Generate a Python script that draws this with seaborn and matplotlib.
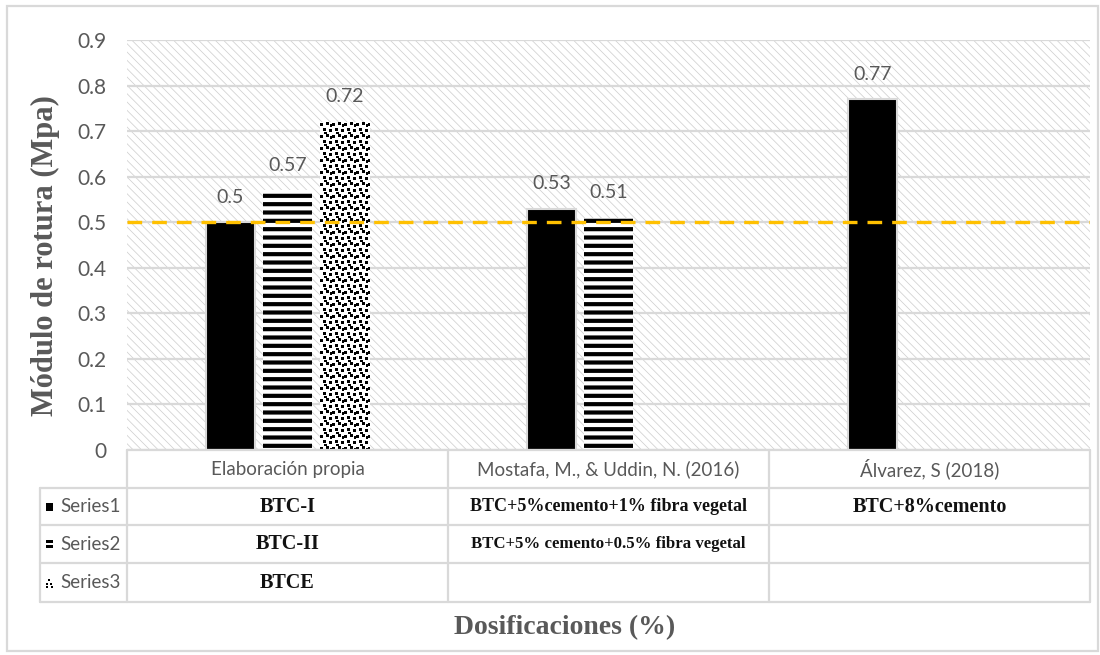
import numpy as np
import pandas as pd
import matplotlib
matplotlib.use("Agg")
import matplotlib.pyplot as plt
import seaborn as sns
from matplotlib.patches import Rectangle
from matplotlib.lines import Line2D

# ---- data -------------------------------------------------------------
categories = ["Elaboración propia", "Mostafa, M., & Uddin, N. (2016)", "Álvarez, S (2018)"]
series_names = ["Series1", "Series2", "Series3"]
series1 = [0.50, 0.53, 0.77]
series2 = [0.57, 0.51, np.nan]
series3 = [0.72, np.nan, np.nan]
series1_desc = ["BTC-I", "BTC+5%cemento+1% fibra vegetal", "BTC+8%cemento"]
series2_desc = ["BTC-II", "BTC+5% cemento+0.5% fibra vegetal", ""]
series3_desc = ["BTCE", "", ""]
y_ticks = [0, 0.1, 0.2, 0.3, 0.4, 0.5, 0.6, 0.7, 0.8, 0.9]
reference_level = 0.5
y_label = "Módulo de rotura (Mpa)"
x_label = "Dosificaciones (%)"

values = [series1, series2, series3]
descs = [series1_desc, series2_desc, series3_desc]
df = pd.DataFrame(
    [(c, s, v) for s, vals in zip(series_names, values) for c, v in zip(categories, vals)],
    columns=["category", "series", "value"],
).dropna()

# ---- style ------------------------------------------------------------
sns.set_theme(style="white")
plt.rcParams["font.family"] = ["Lato", "DejaVu Sans"]

GRID = "#d9d9d9"
TXT = "#595959"
SERIF = ["Liberation Serif", "DejaVu Serif"]

W, H = 1100, 655
fig = plt.figure(figsize=(W / 100, H / 100), dpi=100)
fig.patch.set_facecolor("white")

# plot area in pixel terms
pl, pr, pt, pb = 127, 1090, 40, 450
ax = fig.add_axes([pl / W, 1 - pb / H, (pr - pl) / W, (pb - pt) / H])

# hatched plot-area background
bg = Rectangle((0, 0), 1, 1, transform=ax.transAxes, facecolor="white",
               edgecolor="#d0d0d0", hatch="\\" * 4, lw=0, zorder=0)
if hasattr(bg, "set_hatch_linewidth"):
    bg.set_hatch_linewidth(0.55)
ax.add_patch(bg)

sns.barplot(data=df, x="category", y="value", hue="series",
            order=categories, hue_order=series_names,
            palette=["black", "white", "white"], saturation=1,
            width=0.533, gap=0.125, errorbar=None, legend=False, ax=ax)

ax.set_xlim(-0.5, len(categories) - 0.5)
ax.set_ylim(0, 0.9)

# confetti tile used to fill the third series
tile = np.zeros((12, 12))
for tx, ty in [(0, 1), (6, 0), (3, 6), (9, 7), (10, 2), (4, 10)]:
    tile[ty:ty + 3, tx:tx + 3] = 1
tile = np.clip(tile, 0, 1)

styles = [
    dict(facecolor="black", edgecolor=GRID, linewidth=1.5, hatch=None),
    dict(facecolor="white", edgecolor="black", linewidth=0, hatch="--"),
    dict(facecolor="white", edgecolor="white", linewidth=0, hatch="confetti"),
]
for cont, st in zip(ax.containers, styles):
    for bar in cont:
        bar.set_facecolor(st["facecolor"])
        bar.set_edgecolor(st["edgecolor"])
        bar.set_linewidth(st["linewidth"])
        bar.set_zorder(2)
        if st["hatch"] == "confetti":
            x0, y0 = bar.get_x(), bar.get_y()
            x1, y1 = x0 + bar.get_width(), y0 + bar.get_height()
            (px0, py0), (px1, py1) = ax.transData.transform([(x0, y0), (x1, y1)])
            nx, ny = int(round(px1 - px0)), int(round(py1 - py0))
            reps = (ny // 12 + 2, nx // 12 + 2)
            img = np.tile(tile, reps)[:ny, :nx]
            im = ax.imshow(1 - img, cmap="gray", vmin=0, vmax=1,
                           extent=(x0, x1, y0, y1), origin="upper",
                           aspect="auto", interpolation="nearest", zorder=2.5)
            im.set_clip_path(bar)
        elif st["hatch"]:
            bar.set_hatch(st["hatch"])
            if hasattr(bar, "set_hatch_linewidth"):
                bar.set_hatch_linewidth(3.0)
    ax.bar_label(cont, fmt="{:g}", padding=12, color=TXT, fontsize=14)

ax.axhline(reference_level, color="#FFC000", lw=2.4, dashes=(4.4, 3.0), zorder=4)

ax.set_xlim(-0.5, len(categories) - 0.5)
ax.set_ylim(0, 0.9)
ax.set_yticks(y_ticks)
ax.set_yticklabels([f"{t:g}" for t in y_ticks])
ax.set_xticks([])
ax.set_xlabel("")
ax.set_ylabel("")
ax.yaxis.grid(True, color=GRID, lw=1.6)
ax.set_axisbelow(True)
for s in ax.spines.values():
    s.set_visible(False)
ax.tick_params(axis="y", length=0, pad=15, labelcolor=TXT, labelsize=15)
ax.patch.set_alpha(0)

# ---- overlay in pixel coordinates for the data table and titles --------
ov = fig.add_axes([0, 0, 1, 1], zorder=5)
ov.set_xlim(0, W)
ov.set_ylim(H, 0)
ov.axis("off")
ov.patch.set_alpha(0)

# column edges taken from the category scale
edges = [ax.transData.transform((x, 0))[0] for x in np.arange(len(categories) + 1) - 0.5]
centers = [ax.transData.transform((i, 0))[0] for i in range(len(categories))]

key_l = 40
row_y = [450, 488, 525, 563, 602]
long_sizes = [13.0, 12.1, 12.1]

def hline(y, x0, x1):
    ov.add_line(Line2D([x0, x1], [y, y], color=GRID, lw=1.6))

def vline(x, y0, y1):
    ov.add_line(Line2D([x, x], [y0, y1], color=GRID, lw=1.6))

hline(row_y[0], edges[0], edges[-1])
for y in row_y[1:]:
    hline(y, key_l, edges[-1])
for x in edges:
    vline(x, row_y[0], row_y[-1])
vline(key_l, row_y[1], row_y[-1])

# header row with the category names
hy = (row_y[0] + row_y[1]) / 2
for c, name in zip(centers, categories):
    ov.text(c, hy, name, ha="center", va="center", color=TXT, fontsize=13.5)

# one row per series
for i, (sname, dl) in enumerate(zip(series_names, descs)):
    cy = (row_y[i + 1] + row_y[i + 2]) / 2
    ov.text(60, cy, sname, ha="left", va="center", color=TXT, fontsize=13.5)
    for c, d in zip(centers, dl):
        if d:
            ov.text(c, cy, d, ha="center", va="center", color="#111111",
                    fontsize=14.5 if len(d) < 20 else long_sizes[i],
                    fontweight="bold", family=SERIF)
    # legend key
    if i == 0:
        ov.add_patch(Rectangle((46, cy - 4), 7, 8, facecolor="black", lw=0))
    elif i == 1:
        ov.add_patch(Rectangle((46, cy - 4), 7, 2.5, facecolor="black", lw=0))
        ov.add_patch(Rectangle((46, cy + 1), 7, 2.5, facecolor="black", lw=0))
    else:
        for dx, dy in [(48, -4), (46, 0), (50, 0), (46, 3), (51, 3)]:
            ov.add_patch(Rectangle((dx, cy + dy), 2, 2, facecolor="black", lw=0))

# axis titles
ov.text(45, 256, y_label, rotation=90, ha="center", va="center", color=TXT,
        fontsize=22, fontweight="bold", family=SERIF)
ov.text(565, 628, x_label, ha="center", va="center", color=TXT,
        fontsize=20, fontweight="bold", family=SERIF)

# chart border
ov.add_patch(Rectangle((7, 6), W - 9, H - 10, fill=False, edgecolor=GRID, lw=1.6))

fig.savefig("out.png", dpi=100)
